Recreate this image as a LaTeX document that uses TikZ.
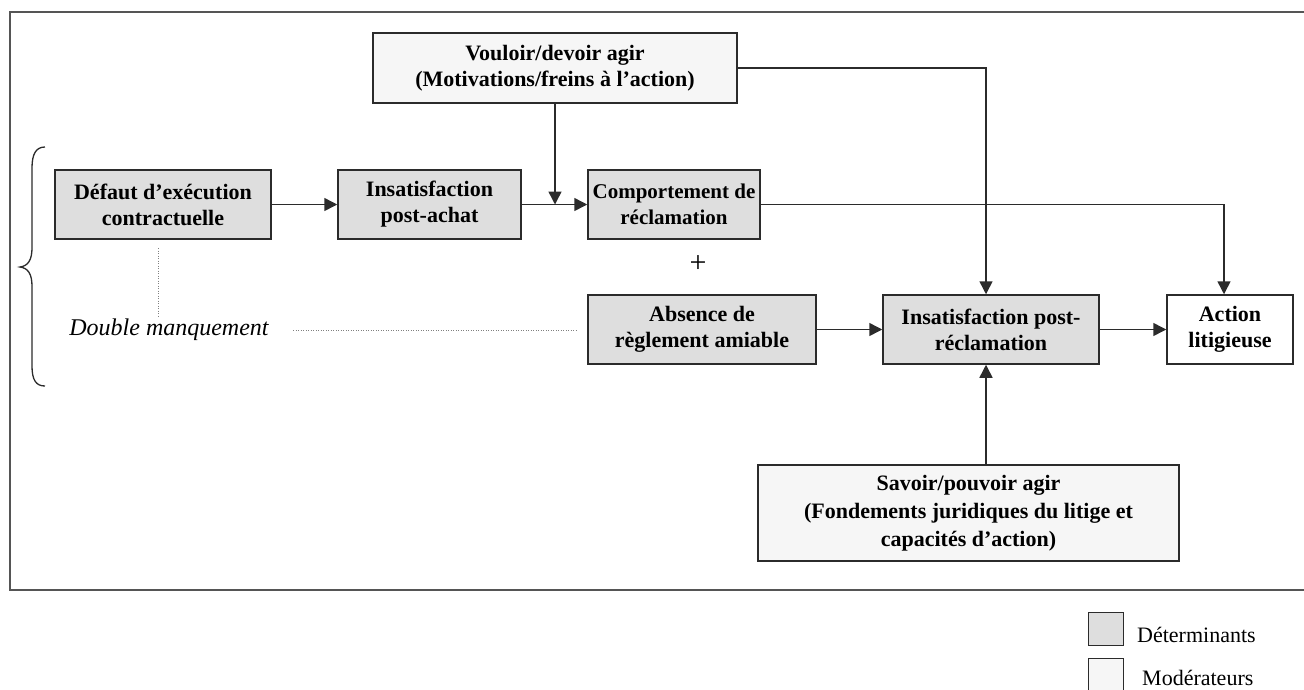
\documentclass[tikz,border=0pt]{standalone}
\usepackage{fontspec}
\setmainfont{Liberation Serif}
\usetikzlibrary{arrows.meta,calc}
\definecolor{lnc}{HTML}{2B2B2B}
\definecolor{frc}{HTML}{555555}
\definecolor{detc}{HTML}{DEDEDE}
\definecolor{modc}{HTML}{F6F6F6}
\tikzset{
  box/.style={draw=lnc, line width=1.5pt, rectangle, inner sep=0pt, align=center,
    font=\bfseries\fontsize{22}{26}\selectfont, text=black},
  det/.style={box, fill=detc},
  moder/.style={box, fill=modc},
  plain/.style={box, fill=white},
  arr/.style={draw=lnc, line width=1.5pt, -{Triangle[length=13pt,width=13pt]}},
  dots/.style={draw=gray, line width=0.8pt, dash pattern=on 1pt off 1.5pt},
}
\begin{document}
\begin{tikzpicture}[x=1pt,y=-1pt]
\useasboundingbox (0,0) rectangle (1304,689);
% frame
\draw[frc, line width=2pt] (1310,12) -- (10,12) -- (10,590) -- (1310,590);

% nodes
\node[det, minimum width=216pt, minimum height=69pt] (def) at (163,204.5) {Défaut d’exécution\\contractuelle};
\node[det, minimum width=183pt, minimum height=69pt] (ins) at (429.5,204.5) {Insatisfaction\\post-achat};
\node[moder, minimum width=364pt, minimum height=70pt] (vou) at (555,68) {Vouloir/devoir agir\\(Motivations/freins à l’action)};
\node[det, minimum width=172pt, minimum height=69pt, font=\bfseries\fontsize{21}{26}\selectfont] (com) at (674,204.5) {Comportement de\\réclamation};
\node[det, minimum width=228pt, minimum height=69pt] (abs) at (702,329.5) {Absence de\\règlement amiable};
\node[det, minimum width=216pt, minimum height=69pt] (ipr) at (991,329.5) {Insatisfaction post-\\réclamation};
\node[plain, minimum width=126pt, minimum height=69pt] (act) at (1230,329.5) {Action\\litigieuse};
\node[moder, minimum width=421pt, minimum height=96pt, font=\bfseries\fontsize{22}{28}\selectfont] (sav) at (968.5,513) {Savoir/pouvoir agir\\(Fondements juridiques du litige et\\capacités d’action)};

\node[font=\fontsize{30}{30}\selectfont] (plus) at (698,264) {+};
\node[font=\itshape\fontsize{24}{28}\selectfont] (dm) at (169,330) {Double manquement};

% helper coordinates
\coordinate (j) at (555,204.5);
\coordinate (ax) at (986,0);
\coordinate (bx) at (1224,0);
\coordinate (d1) at (158,248);
\coordinate (d2) at (158,317);
\coordinate (h1) at (293,330);
\coordinate (h2) at (577,330);

% connectors
\draw[arr] (def.east) -- (ins.west);
\draw[arr] (ins.east) -- (com.west);
\draw[arr] (vou.south) -- (j);
\draw[arr] (vou.east) -| (ipr.north -| ax);
\draw[arr] (com.east) -| (act.north -| bx);
\draw[arr] (abs.east) -- (ipr.west);
\draw[arr] (ipr.east) -- (act.west);
\draw[arr] (sav.north -| ax) -- (ipr.south -| ax);

% dotted links
\draw[dots] (d1) -- (d2);
\draw[dots] (h1) -- (h2);

% brace
\draw[lnc, line width=1.3pt] (45,147) .. controls (36,147) and (32,154) .. (32,168) -- (32,248)
  .. controls (32,260) and (28,266) .. (20,267)
  .. controls (28,268) and (32,274) .. (32,286) -- (32,366)
  .. controls (32,380) and (36,386) .. (45,386);

% legend
\node[draw=lnc, line width=1pt, fill=detc, minimum width=35pt, minimum height=33pt, inner sep=0pt] (l1) at (1105.5,628.5) {};
\node[draw=lnc, line width=1pt, fill=modc, minimum width=35pt, minimum height=33pt, inner sep=0pt] (l2) at (1105.5,674.5) {};
\node[anchor=west, inner sep=0pt, font=\fontsize{22}{26}\selectfont] (t1) at (1137,635) {Déterminants};
\node[anchor=west, inner sep=0pt, font=\fontsize{22}{26}\selectfont] (t2) at (1142,678) {Modérateurs};
\end{tikzpicture}
\end{document}
